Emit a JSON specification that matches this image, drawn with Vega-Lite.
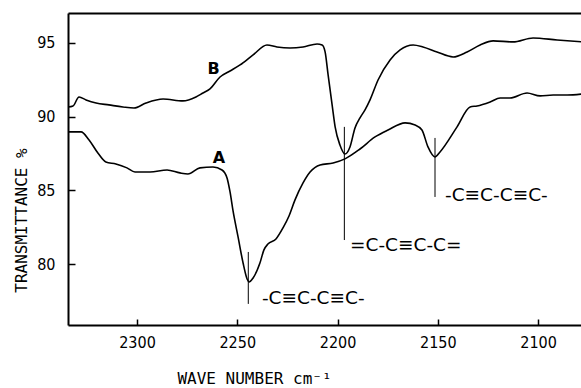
{
  "$schema": "https://vega.github.io/schema/vega-lite/v6.json",
  "width": 513,
  "height": 312,
  "autosize": {"type": "none"},
  "padding": {"left": 68, "top": 13, "right": 0, "bottom": 63},
  "background": "white",
  "config": {
    "view": {"stroke": null},
    "axis": {
      "grid": false,
      "domainColor": "black",
      "domainWidth": 2,
      "tickColor": "black",
      "tickWidth": 1.5,
      "labelColor": "black",
      "labelFont": "DejaVu Sans Condensed, DejaVu Sans",
      "labelFontSize": 16,
      "titleColor": "black",
      "titleFont": "DejaVu Sans Mono",
      "titleFontWeight": "normal",
      "titleFontSize": 16
    }
  },
  "datasets": {
    "spectra": [
      {"series": "B", "w": 2334.4, "v": 90.66},
      {"series": "B", "w": 2331.9, "v": 90.73},
      {"series": "B", "w": 2328.9, "v": 91.34},
      {"series": "B", "w": 2325.4, "v": 91.14},
      {"series": "B", "w": 2320.4, "v": 90.93},
      {"series": "B", "w": 2314.0, "v": 90.80},
      {"series": "B", "w": 2307.0, "v": 90.66},
      {"series": "B", "w": 2301.5, "v": 90.59},
      {"series": "B", "w": 2295.5, "v": 90.93},
      {"series": "B", "w": 2287.0, "v": 91.20},
      {"series": "B", "w": 2277.1, "v": 91.07},
      {"series": "B", "w": 2270.6, "v": 91.34},
      {"series": "B", "w": 2267.1, "v": 91.61},
      {"series": "B", "w": 2263.6, "v": 91.88},
      {"series": "B", "w": 2258.6, "v": 92.69},
      {"series": "B", "w": 2253.6, "v": 93.10},
      {"series": "B", "w": 2248.6, "v": 93.51},
      {"series": "B", "w": 2242.1, "v": 94.19},
      {"series": "B", "w": 2235.2, "v": 94.86},
      {"series": "B", "w": 2230.2, "v": 94.73},
      {"series": "B", "w": 2223.7, "v": 94.66},
      {"series": "B", "w": 2217.2, "v": 94.73},
      {"series": "B", "w": 2210.2, "v": 94.93},
      {"series": "B", "w": 2207.7, "v": 94.86},
      {"series": "B", "w": 2206.2, "v": 94.39},
      {"series": "B", "w": 2204.7, "v": 92.83},
      {"series": "B", "w": 2202.7, "v": 90.80},
      {"series": "B", "w": 2201.2, "v": 89.31},
      {"series": "B", "w": 2198.8, "v": 88.08},
      {"series": "B", "w": 2196.3, "v": 87.47},
      {"series": "B", "w": 2193.8, "v": 87.95},
      {"series": "B", "w": 2191.3, "v": 89.24},
      {"series": "B", "w": 2188.8, "v": 89.92},
      {"series": "B", "w": 2186.3, "v": 90.46},
      {"series": "B", "w": 2183.8, "v": 91.14},
      {"series": "B", "w": 2179.8, "v": 92.49},
      {"series": "B", "w": 2173.8, "v": 93.85},
      {"series": "B", "w": 2168.8, "v": 94.53},
      {"series": "B", "w": 2162.3, "v": 94.86},
      {"series": "B", "w": 2157.4, "v": 94.73},
      {"series": "B", "w": 2150.4, "v": 94.39},
      {"series": "B", "w": 2142.4, "v": 94.05},
      {"series": "B", "w": 2135.4, "v": 94.39},
      {"series": "B", "w": 2128.9, "v": 94.86},
      {"series": "B", "w": 2122.4, "v": 95.14},
      {"series": "B", "w": 2112.5, "v": 95.07},
      {"series": "B", "w": 2102.5, "v": 95.34},
      {"series": "B", "w": 2090.5, "v": 95.20},
      {"series": "B", "w": 2078.0, "v": 95.07},
      {"series": "A", "w": 2334.4, "v": 88.97},
      {"series": "A", "w": 2327.9, "v": 88.97},
      {"series": "A", "w": 2323.9, "v": 88.42},
      {"series": "A", "w": 2319.5, "v": 87.54},
      {"series": "A", "w": 2315.5, "v": 86.93},
      {"series": "A", "w": 2310.5, "v": 86.80},
      {"series": "A", "w": 2305.0, "v": 86.53},
      {"series": "A", "w": 2301.0, "v": 86.25},
      {"series": "A", "w": 2293.5, "v": 86.25},
      {"series": "A", "w": 2285.0, "v": 86.39},
      {"series": "A", "w": 2278.6, "v": 86.19},
      {"series": "A", "w": 2274.6, "v": 86.12},
      {"series": "A", "w": 2268.6, "v": 86.53},
      {"series": "A", "w": 2262.1, "v": 86.59},
      {"series": "A", "w": 2257.6, "v": 86.39},
      {"series": "A", "w": 2255.1, "v": 85.85},
      {"series": "A", "w": 2253.6, "v": 84.90},
      {"series": "A", "w": 2252.1, "v": 83.61},
      {"series": "A", "w": 2249.6, "v": 81.85},
      {"series": "A", "w": 2247.1, "v": 80.08},
      {"series": "A", "w": 2245.1, "v": 79.00},
      {"series": "A", "w": 2244.1, "v": 78.80},
      {"series": "A", "w": 2242.1, "v": 79.07},
      {"series": "A", "w": 2238.7, "v": 80.08},
      {"series": "A", "w": 2236.7, "v": 80.97},
      {"series": "A", "w": 2234.7, "v": 81.37},
      {"series": "A", "w": 2230.7, "v": 81.71},
      {"series": "A", "w": 2227.2, "v": 82.46},
      {"series": "A", "w": 2224.2, "v": 83.27},
      {"series": "A", "w": 2221.2, "v": 84.36},
      {"series": "A", "w": 2217.2, "v": 85.51},
      {"series": "A", "w": 2213.7, "v": 86.25},
      {"series": "A", "w": 2208.7, "v": 86.73},
      {"series": "A", "w": 2202.2, "v": 86.86},
      {"series": "A", "w": 2196.3, "v": 87.14},
      {"series": "A", "w": 2188.8, "v": 87.81},
      {"series": "A", "w": 2181.3, "v": 88.63},
      {"series": "A", "w": 2174.8, "v": 89.10},
      {"series": "A", "w": 2166.3, "v": 89.58},
      {"series": "A", "w": 2161.3, "v": 89.44},
      {"series": "A", "w": 2157.9, "v": 89.10},
      {"series": "A", "w": 2154.9, "v": 87.95},
      {"series": "A", "w": 2151.4, "v": 87.27},
      {"series": "A", "w": 2148.9, "v": 87.61},
      {"series": "A", "w": 2140.4, "v": 89.31},
      {"series": "A", "w": 2133.9, "v": 90.66},
      {"series": "A", "w": 2130.4, "v": 90.73},
      {"series": "A", "w": 2123.9, "v": 91.00},
      {"series": "A", "w": 2118.9, "v": 91.27},
      {"series": "A", "w": 2114.0, "v": 91.27},
      {"series": "A", "w": 2105.5, "v": 91.61},
      {"series": "A", "w": 2099.0, "v": 91.41},
      {"series": "A", "w": 2092.5, "v": 91.47},
      {"series": "A", "w": 2085.5, "v": 91.47},
      {"series": "A", "w": 2078.0, "v": 91.54}
    ],
    "markers": [
      {"w": 2244.5, "v": 80.83, "v2": 77.31},
      {"w": 2196.6, "v": 89.31, "v2": 81.64},
      {"w": 2151.4, "v": 88.56, "v2": 84.56}
    ],
    "groups": [
      {"w": 2146.4, "v": 84.7, "label": "-C≡C-C≡C-"},
      {"w": 2193.8, "v": 81.3, "label": "=C-C≡C-C="},
      {"w": 2237.7, "v": 77.7, "label": "-C≡C-C≡C-"}
    ],
    "curves": [
      {"w": 2261.8, "v": 93.24, "label": "B"},
      {"w": 2259.1, "v": 87.2, "label": "A"}
    ]
  },
  "layer": [
    {
      "data": {"name": "spectra"},
      "mark": {"type": "line", "color": "black", "strokeWidth": 1.6, "interpolate": "monotone"},
      "encoding": {
        "x": {
          "field": "w", "type": "quantitative",
          "scale": {"domain": [2078.6, 2334.4], "reverse": true, "nice": false, "zero": false},
          "axis": {"orient": "bottom", "values": [2300, 2250, 2200, 2150, 2100], "tickSize": -6, "labelPadding": 15, "format": "d",
                   "title": "WAVE NUMBER  cm⁻¹", "titleX": 186, "titleY": 58, "titleBaseline": "alphabetic", "titleAlign": "center"}
        },
        "y": {
          "field": "v", "type": "quantitative",
          "scale": {"domain": [75.88, 97.03], "nice": false, "zero": false},
          "axis": {"values": [80, 85, 90, 95], "tickSize": -7, "labelPadding": 20, "format": "d",
                   "title": "TRANSMITTANCE %", "titleX": -47, "titleY": 207, "titleAngle": -90, "titleAlign": "center", "titleBaseline": "middle"}
        },
        "detail": {"field": "series"}
      }
    },
    {
      "data": {"name": "markers"},
      "mark": {"type": "rule", "color": "black", "strokeWidth": 1},
      "encoding": {
        "x": {
          "field": "w", "type": "quantitative",
          "scale": {"domain": [2078.6, 2334.4], "reverse": true, "nice": false, "zero": false},
          "axis": {"orient": "top", "labels": false, "ticks": false, "title": null, "domain": true}
        },
        "y": {"field": "v", "type": "quantitative"},
        "y2": {"field": "v2"}
      }
    },
    {
      "data": {"name": "groups"},
      "mark": {"type": "text", "align": "left", "baseline": "middle", "font": "DejaVu Sans", "fontSize": 18.5, "color": "black"},
      "encoding": {
        "x": {"field": "w", "type": "quantitative", "axis": null},
        "y": {"field": "v", "type": "quantitative"},
        "text": {"field": "label"}
      }
    },
    {
      "data": {"name": "curves"},
      "mark": {"type": "text", "align": "center", "baseline": "middle", "font": "DejaVu Sans", "fontWeight": "bold", "fontSize": 16, "color": "black"},
      "encoding": {
        "x": {"field": "w", "type": "quantitative", "axis": null},
        "y": {"field": "v", "type": "quantitative"},
        "text": {"field": "label"}
      }
    }
  ],
  "resolve": {"axis": {"x": "independent"}}
}
